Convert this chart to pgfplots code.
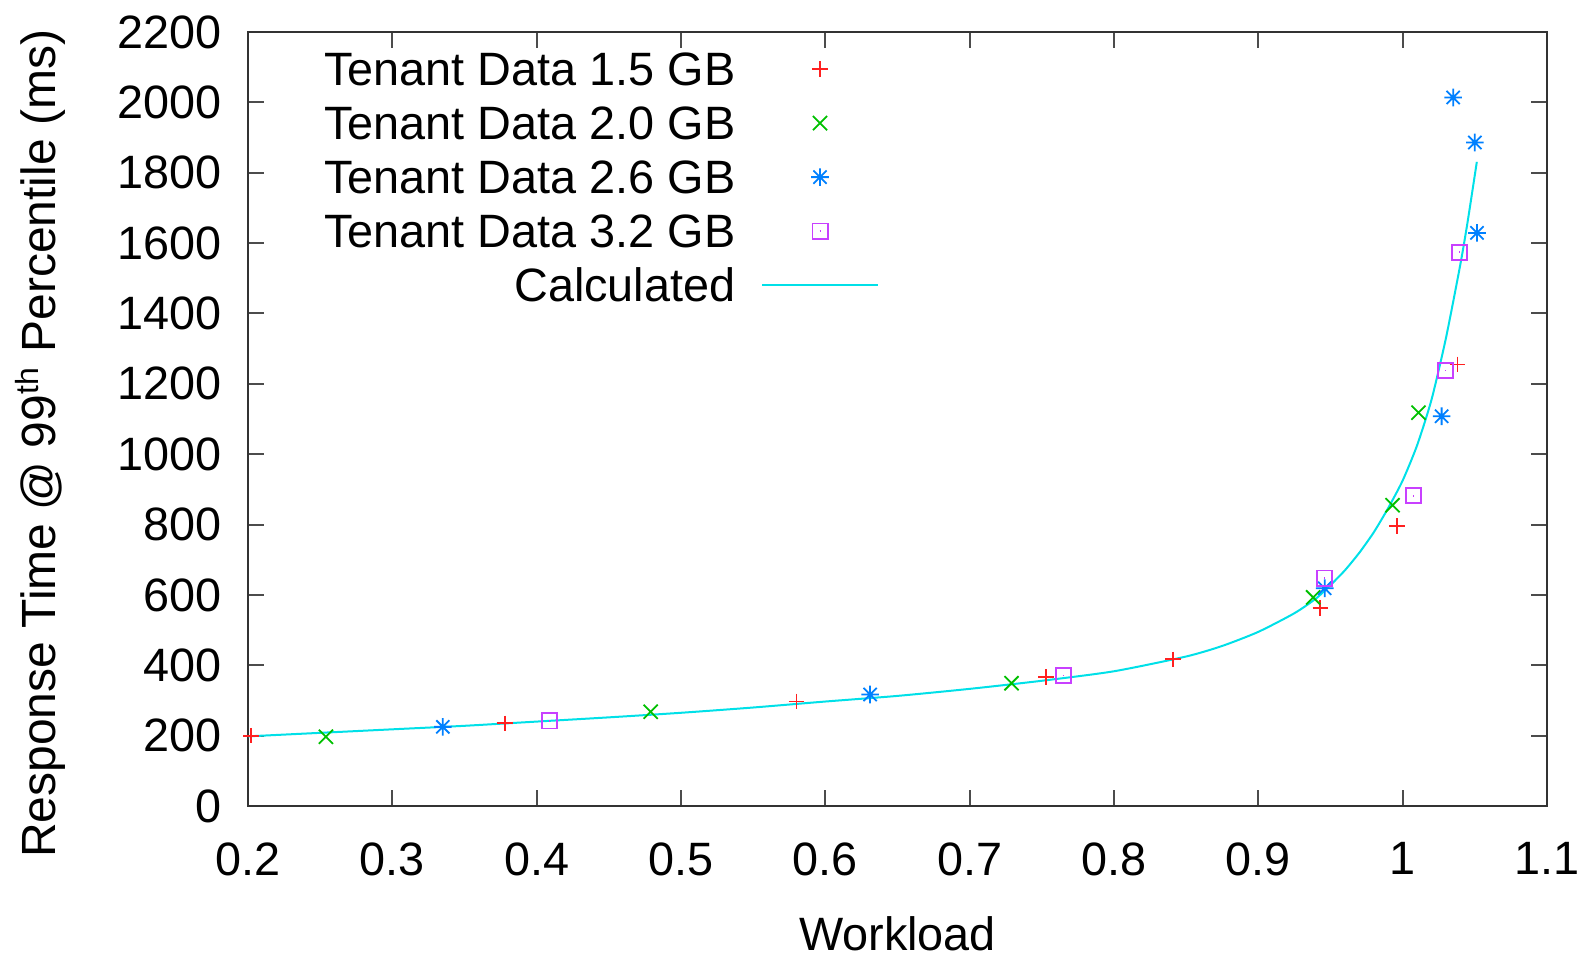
\documentclass[border=0pt]{standalone}
\usepackage{pgfplots}
\pgfplotsset{compat=1.18}
\usepackage{fontspec}
\setmainfont{Liberation Sans}
\definecolor{gpred}{HTML}{FF2020}
\definecolor{gpgreen}{HTML}{00C000}
\definecolor{gpblue}{HTML}{0080FF}
\definecolor{gpmag}{HTML}{C840FF}
\definecolor{gpcyan}{HTML}{00E0E8}
\pgfdeclareplotmark{gpast}{%
 \pgfpathmoveto{\pgfqpoint{-\pgfplotmarksize}{0pt}}\pgfpathlineto{\pgfqpoint{\pgfplotmarksize}{0pt}}%
 \pgfpathmoveto{\pgfqpoint{0pt}{-\pgfplotmarksize}}\pgfpathlineto{\pgfqpoint{0pt}{\pgfplotmarksize}}%
 \pgfpathmoveto{\pgfqpoint{-.75\pgfplotmarksize}{-.75\pgfplotmarksize}}\pgfpathlineto{\pgfqpoint{.75\pgfplotmarksize}{.75\pgfplotmarksize}}%
 \pgfpathmoveto{\pgfqpoint{-.75\pgfplotmarksize}{.75\pgfplotmarksize}}\pgfpathlineto{\pgfqpoint{.75\pgfplotmarksize}{-.75\pgfplotmarksize}}%
 \pgfusepathqstroke}
\pgfdeclareplotmark{gpbox}{%
 \pgfpathrectangle{\pgfqpoint{-\pgfplotmarksize}{-\pgfplotmarksize}}{\pgfqpoint{2\pgfplotmarksize}{2\pgfplotmarksize}}%
 \pgfpathmoveto{\pgfqpoint{-0.1pt}{0pt}}\pgfpathlineto{\pgfqpoint{0.1pt}{0pt}}%
 \pgfusepathqstroke}
\begin{document}
\begin{tikzpicture}[font=\fontsize{11.7pt}{13.5pt}\selectfont]
\path (-62pt,-37.75pt) rectangle (334.25pt,201.5pt);
\begin{axis}[
  at={(0,0)}, anchor=south west,
  scale only axis, width=324.75pt, height=193.5pt,
  xmin=0.2, xmax=1.1, ymin=0, ymax=2200,
  xtick={0.2,0.3,0.4,0.5,0.6,0.7,0.8,0.9,1,1.1},
  ytick={0,200,400,600,800,1000,1200,1400,1600,1800,2000,2200},
  /pgf/number format/assume math mode=true,
  /pgf/number format/1000 sep={},
  xticklabel style={inner xsep=0pt, yshift=-5.6pt},
  yticklabel style={xshift=-3.0pt},
  tick align=inside, major tick length=4pt,
  tick style={black!70, line width=0.5pt},
  axis line style={black!80, line width=0.6pt},
  clip=false,
  xlabel={Workload},
  xlabel style={at={(axis description cs:0.5,0)}, anchor=base, inner sep=0pt, yshift=-36.2pt},
  ylabel={Response Time @ 99\textsuperscript{th} Percentile (ms)},
  ylabel style={at={(axis description cs:-0.160,0.468)}, anchor=center, inner sep=0pt, font=\fontsize{12pt}{14pt}\selectfont},
  legend cell align=right,
  legend plot pos=right,
  legend image code/.code={\draw[mark repeat=2,mark phase=2,#1] plot coordinates {(0pt,0pt) (14.5pt,0pt) (29pt,0pt)};},
  legend style={draw=none, fill=none, inner sep=0pt, /tikz/column sep=4.4pt,
    at={(axis description cs:0.052,0.988)}, anchor=north west,
    nodes={text height=8.4pt, text depth=0pt, inner ysep=2.55pt}},
]
\addplot[only marks, mark=+, mark size=1.95pt, color=gpred, mark options={line width=0.45pt}] coordinates {
(0.202,200) (0.378,235) (0.580,297) (0.753,367) (0.841,417) (0.943,563) (0.996,796) (1.038,1255)};
\addlegendentry{Tenant Data 1.5 GB}
\addplot[only marks, mark=x, mark size=2.5pt, color=gpgreen, mark options={line width=0.45pt}] coordinates {
(0.254,197) (0.479,268) (0.729,349) (0.938,593) (0.993,855) (1.011,1118)};
\addlegendentry{Tenant Data 2.0 GB}
\addplot[only marks, mark=gpast, mark size=2.2pt, color=gpblue, mark options={line width=0.45pt}] coordinates {
(0.335,225) (0.631,317) (0.946,619) (1.027,1108) (1.035,2014) (1.050,1886) (1.0515,1629)};
\addlegendentry{Tenant Data 2.6 GB}
\addplot[only marks, mark=gpbox, mark size=1.9pt, color=gpmag, mark options={line width=0.45pt}] coordinates {
(0.409,242) (0.765,371) (0.946,648) (1.0075,882) (1.0295,1238) (1.0395,1574)};
\addlegendentry{Tenant Data 3.2 GB}
\addplot[no marks, smooth, tension=0.4, color=gpcyan, line width=0.5pt] coordinates {
(0.2,198) (0.25,208) (0.3,218) (0.35,228) (0.4,240) (0.45,252) (0.5,265) (0.55,280) (0.6,297) (0.65,313) (0.7,333) (0.75,356) (0.8,383) (0.85,425) (0.875,455) (0.9,495) (0.925,548) (0.94,590) (0.95,628) (0.96,670) (0.97,720) (0.98,778) (0.99,847) (1.0,925) (1.01,1025) (1.02,1155) (1.03,1330) (1.04,1540) (1.045,1660) (1.0514,1831)};
\addlegendentry{Calculated}
\end{axis}
\end{tikzpicture}
\end{document}
